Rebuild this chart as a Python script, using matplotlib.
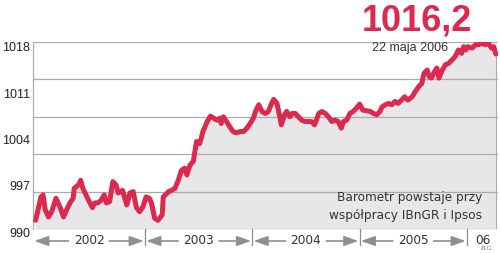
import numpy as np
import matplotlib
matplotlib.use('Agg')
import matplotlib.pyplot as plt

# Barometer readings (decimal year, index value)
years = [
    2001.98, 2002.03, 2002.05, 2002.07, 2002.10, 2002.13, 2002.17, 2002.21, 2002.24, 2002.27,
    2002.30, 2002.33, 2002.34, 2002.38, 2002.40, 2002.42, 2002.45, 2002.48, 2002.51, 2002.53,
    2002.56, 2002.59, 2002.62, 2002.64, 2002.67, 2002.70, 2002.73, 2002.75, 2002.79, 2002.83,
    2002.86, 2002.89, 2002.92, 2002.95, 2002.98, 2003.01, 2003.04, 2003.06, 2003.09, 2003.12,
    2003.16, 2003.17, 2003.22, 2003.25, 2003.28, 2003.31, 2003.34, 2003.37, 2003.39, 2003.42,
    2003.45, 2003.48, 2003.51, 2003.54, 2003.58, 2003.61, 2003.64, 2003.67, 2003.70, 2003.71,
    2003.73, 2003.76, 2003.79, 2003.82, 2003.85, 2003.89, 2003.92, 2003.95, 2003.98, 2004.01,
    2004.03, 2004.06, 2004.09, 2004.12, 2004.15, 2004.18, 2004.20, 2004.23, 2004.25, 2004.27,
    2004.30, 2004.32, 2004.35, 2004.37, 2004.40, 2004.43, 2004.46, 2004.49, 2004.52, 2004.55,
    2004.58, 2004.62, 2004.65, 2004.68, 2004.71, 2004.74, 2004.77, 2004.80, 2004.83, 2004.85,
    2004.88, 2004.91, 2004.94, 2004.97, 2005.00, 2005.03, 2005.07, 2005.10, 2005.13, 2005.16,
    2005.19, 2005.21, 2005.24, 2005.27, 2005.30, 2005.33, 2005.36, 2005.39, 2005.42, 2005.45,
    2005.49, 2005.52, 2005.55, 2005.58, 2005.60, 2005.63, 2005.65, 2005.67, 2005.70, 2005.72,
    2005.74, 2005.77, 2005.80, 2005.83, 2005.86, 2005.89, 2005.92, 2005.95, 2005.97, 2005.99,
    2006.01, 2006.05, 2006.08, 2006.11, 2006.14, 2006.17, 2006.20, 2006.23, 2006.25, 2006.27,
]
values = [
    991.3, 994.8, 995.1, 992.9, 991.8, 992.6, 994.6, 993.2, 991.8, 992.9,
    993.9, 994.6, 996.1, 996.6, 997.3, 996.1, 995.1, 994.1, 993.2, 993.9,
    993.9, 994.3, 995.1, 993.9, 994.1, 997.1, 996.6, 995.4, 995.8, 993.6,
    995.4, 995.6, 993.2, 992.6, 993.3, 994.8, 994.6, 993.9, 991.6, 991.3,
    992.1, 994.8, 995.6, 995.8, 996.1, 997.3, 998.8, 999.1, 998.1, 999.6,
    1000.1, 1003.1, 1002.8, 1004.6, 1006.1, 1006.9, 1006.6, 1006.3, 1006.6, 1005.8,
    1006.8, 1006.1, 1005.3, 1004.6, 1004.4, 1004.6, 1004.6, 1005.1, 1005.8, 1006.6,
    1007.6, 1008.6, 1007.6, 1007.3, 1007.6, 1008.8, 1009.4, 1008.8, 1007.3, 1005.6,
    1007.1, 1007.6, 1006.8, 1007.3, 1007.3, 1006.8, 1006.3, 1006.1, 1006.1, 1006.1,
    1005.6, 1007.3, 1007.6, 1007.3, 1006.8, 1006.1, 1006.3, 1006.1, 1005.1, 1006.1,
    1006.3, 1007.3, 1007.6, 1008.1, 1008.7, 1007.8, 1007.7, 1007.6, 1007.3, 1007.1,
    1007.6, 1008.3, 1008.6, 1008.8, 1008.6, 1009.1, 1008.8, 1009.3, 1009.8, 1009.3,
    1009.8, 1010.6, 1011.3, 1011.8, 1013.3, 1013.8, 1012.8, 1012.6, 1013.6, 1014.1,
    1012.6, 1013.8, 1014.6, 1014.8, 1015.3, 1015.8, 1016.8, 1016.3, 1017.3, 1016.8,
    1017.3, 1017.1, 1017.6, 1017.6, 1017.8, 1017.6, 1017.8, 1017.1, 1017.3, 1016.2,
]
y_labels = ['1018', '1011', '1004', '997', '990']
year_edges = [2003, 2004, 2005, 2006]
year_labels = ['2002', '2003', '2004', '2005', '06']
last_value = '1016,2'
last_date = '22 maja 2006'

RED = '#dc2a4f'
GRID = '#ababab'
ARROW = '#8f8f8f'
XMIN, XMAX = 2001.956, 2006.29

fig = plt.figure(figsize=(5, 2.54), dpi=100)
ax = fig.add_axes([33 / 500, 25 / 254, 465 / 500, 187 / 254])
ax.set_xlim(XMIN, XMAX)
ax.set_ylim(990, 1018)
ax.set_xticks([])
ax.set_yticks([])
for side in ['top', 'right', 'bottom']:
    ax.spines[side].set_visible(False)
ax.spines['left'].set_color(GRID)
ax.spines['left'].set_linewidth(0.9)

ax.fill_between(years, values, 990, color='#e7e7e9', lw=0, zorder=1)
for g in np.linspace(990, 1018, 6):
    ax.axhline(g, color=GRID, lw=0.9, zorder=2)
ax.plot([years[-1], years[-1]], [990, values[-1]], color=GRID, lw=0.8, zorder=2)
ax.plot(years, values, color=RED, lw=3.6, solid_joinstyle='round',
        solid_capstyle='round', zorder=3)

# value labels on the left (spaced evenly, not on the gridlines)
for i, lab in enumerate(y_labels):
    ypix = 48 + i * 46.5
    fig.text(30 / 500, 1 - ypix / 254, lab, ha='right', va='center',
             fontsize=9, family='Liberation Sans', color='#222222')

# time line under the plot
trans = ax.get_xaxis_transform()
yf = -12 / 187
edges = [XMIN] + year_edges
arrow = dict(arrowstyle='-|>,head_length=0.85,head_width=0.3', color=ARROW,
             lw=1.2, shrinkA=0, shrinkB=0, mutation_scale=10)
for i, lab in enumerate(year_labels[:-1]):
    a, b = edges[i], edges[i + 1]
    c = (a + b) / 2
    ax.text(c, yf, lab, ha='center', va='center', transform=trans,
            fontsize=8.7, color='#333333', family='DejaVu Sans')
    ax.annotate('', xy=(a + 0.012, yf), xytext=(c - 0.19, yf), xycoords=trans,
                textcoords=trans, arrowprops=arrow, annotation_clip=False)
    ax.annotate('', xy=(b - 0.012, yf), xytext=(c + 0.19, yf), xycoords=trans,
                textcoords=trans, arrowprops=arrow, annotation_clip=False)
ax.text((year_edges[-1] + XMAX) / 2, yf, year_labels[-1], ha='center', va='center',
        transform=trans, fontsize=8.7, color='#333333', family='DejaVu Sans')
for e in year_edges:
    ax.plot([e, e], [0, -0.085], transform=trans, color=ARROW, lw=0.9, clip_on=False)

fig.text(487 / 500, 1 - 249 / 254, 'B.G.', ha='center', va='center',
         fontsize=4.5, color='#777777', family='DejaVu Serif')

# note and headline
fig.text(482 / 500, 1 - 198 / 254, 'Barometr powstaje przy', ha='right', va='center',
         fontsize=8.7, color='#333333', family='DejaVu Sans')
fig.text(482 / 500, 1 - 216 / 254, 'współpracy IBnGR i Ipsos', ha='right', va='center',
         fontsize=8.7, color='#333333', family='DejaVu Sans')
fig.text(417 / 500, 1 - 21 / 254, last_value, ha='center', va='center',
         fontsize=26, fontweight='bold', color=RED, family='Liberation Sans')
fig.text(410 / 500, 1 - 48.5 / 254, last_date, ha='center', va='center',
         fontsize=9, color='#333333', family='Liberation Sans')

fig.savefig('out.png', dpi=100)
